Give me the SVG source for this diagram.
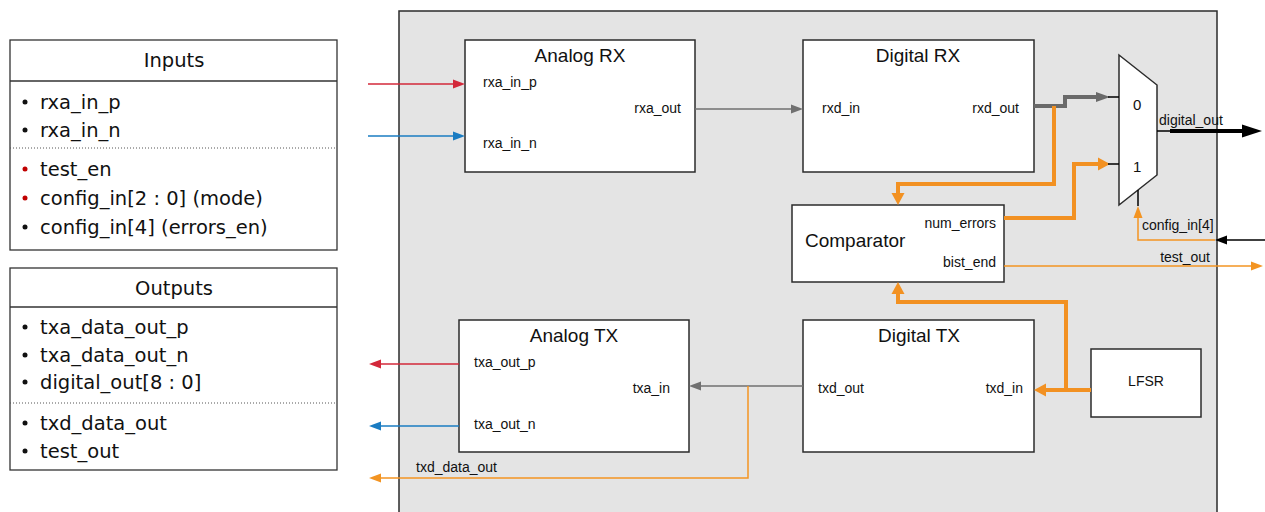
<svg xmlns="http://www.w3.org/2000/svg" width="1265" height="512" viewBox="0 0 1265 512">
  <style>
    .box { fill: #ffffff; stroke: #2b2b2b; stroke-width: 1.5; }
    .list { font-family: "DejaVu Sans", "Open Sans", sans-serif; font-size: 19.5px; fill: #111; }
    .title { font-family: "Liberation Sans", Arial, sans-serif; font-size: 19px; fill: #111; }
    .port { font-family: "Liberation Sans", Arial, sans-serif; font-size: 14px; fill: #111; }
    .end { text-anchor: end; }
    .mid { text-anchor: middle; }
    .dots { stroke: #555; stroke-width: 1; stroke-dasharray: 1 2; }
    .w { fill: none; stroke-linejoin: miter; }
    .gray { stroke: #707070; stroke-width: 1.5; }
    .grayb { stroke: #6a6a6a; stroke-width: 4; }
    .red { stroke: #d3283a; stroke-width: 1.5; }
    .blue { stroke: #1a7cc2; stroke-width: 1.5; }
    .org { stroke: #f39422; stroke-width: 1.5; }
    .orgb { stroke: #f29122; stroke-width: 4; }
    .blk { stroke: #000; stroke-width: 1.5; }
    .blkb { stroke: #000; stroke-width: 4; }
  </style>
  <defs>
    <marker id="aGray" markerUnits="userSpaceOnUse" orient="auto" overflow="visible" markerWidth="12" markerHeight="10"><path d="M0,-4.5 L12,0 L0,4.5 z" fill="#707070"/></marker>
    <marker id="aRed" markerUnits="userSpaceOnUse" orient="auto" overflow="visible" markerWidth="12" markerHeight="10"><path d="M0,-4.5 L12,0 L0,4.5 z" fill="#d3283a"/></marker>
    <marker id="aBlue" markerUnits="userSpaceOnUse" orient="auto" overflow="visible" markerWidth="12" markerHeight="10"><path d="M0,-4.5 L12,0 L0,4.5 z" fill="#1a7cc2"/></marker>
    <marker id="aOrg" markerUnits="userSpaceOnUse" orient="auto" overflow="visible" markerWidth="12" markerHeight="10"><path d="M0,-4.5 L12,0 L0,4.5 z" fill="#f39422"/></marker>
    <marker id="aBlk" markerUnits="userSpaceOnUse" orient="auto" overflow="visible" markerWidth="12" markerHeight="10"><path d="M0,-4.5 L12,0 L0,4.5 z" fill="#000"/></marker>
    <marker id="aOrgB" markerUnits="userSpaceOnUse" orient="auto" overflow="visible" markerWidth="12" markerHeight="14"><path d="M0,-6.5 L12,0 L0,6.5 z" fill="#f29122"/></marker>
    <marker id="aGrayB" markerUnits="userSpaceOnUse" orient="auto" overflow="visible" markerWidth="14" markerHeight="10"><path d="M0,-5 L14,0 L0,5 z" fill="#6a6a6a"/></marker>
    <marker id="aBlkB" markerUnits="userSpaceOnUse" orient="auto" overflow="visible" markerWidth="20" markerHeight="14"><path d="M0,-6.5 L20,0 L0,6.5 z" fill="#000"/></marker>
  </defs>

  <rect width="1265" height="512" fill="#ffffff"/>

  <!-- port lists -->
  <g id="inputs">
    <rect x="10" y="40" width="327" height="210" fill="#fff" stroke="#333" stroke-width="1.3"/>
    <line x1="10" y1="81" x2="337" y2="81" stroke="#333" stroke-width="1.3"/>
    <line x1="10" y1="148" x2="337" y2="148" class="dots"/>
    <text x="174" y="67" class="list mid">Inputs</text>
    <circle cx="25" cy="102" r="2.5" fill="#111"/>
    <text x="40" y="109" class="list">rxa_in_p</text>
    <circle cx="25" cy="130" r="2.5" fill="#111"/>
    <text x="40" y="137" class="list">rxa_in_n</text>
    <circle cx="25" cy="169" r="2.5" fill="#c00000"/>
    <text x="40" y="176" class="list">test_en</text>
    <circle cx="25" cy="198" r="2.5" fill="#c00000"/>
    <text x="40" y="205" class="list">config_in[2 : 0] (mode)</text>
    <circle cx="25" cy="227" r="2.5" fill="#111"/>
    <text x="40" y="234" class="list">config_in[4] (errors_en)</text>
  </g>

  <g id="outputs">
    <rect x="10" y="268" width="327" height="202" fill="#fff" stroke="#333" stroke-width="1.3"/>
    <line x1="10" y1="307" x2="337" y2="307" stroke="#333" stroke-width="1.3"/>
    <line x1="10" y1="403" x2="337" y2="403" class="dots"/>
    <text x="174" y="295" class="list mid">Outputs</text>
    <circle cx="25" cy="327" r="2.5" fill="#111"/>
    <text x="40" y="334" class="list">txa_data_out_p</text>
    <circle cx="25" cy="355" r="2.5" fill="#111"/>
    <text x="40" y="362" class="list">txa_data_out_n</text>
    <circle cx="25" cy="382" r="2.5" fill="#111"/>
    <text x="40" y="389" class="list">digital_out[8 : 0]</text>
    <circle cx="25" cy="423" r="2.5" fill="#111"/>
    <text x="40" y="430" class="list">txd_data_out</text>
    <circle cx="25" cy="451" r="2.5" fill="#111"/>
    <text x="40" y="458" class="list">test_out</text>
  </g>

  <!-- top-level block boundary -->
  <g id="top">
    <rect x="399" y="11" width="818" height="510" fill="#e4e4e4" stroke="#2b2b2b" stroke-width="1.5"/>
  </g>

  <g id="analog-rx">
    <rect x="465" y="40" width="230" height="132" class="box"/>
    <text x="580" y="62" class="title mid">Analog RX</text>
    <text x="483" y="87" class="port">rxa_in_p</text>
    <text x="483" y="148" class="port">rxa_in_n</text>
    <text x="681" y="113" class="port end">rxa_out</text>
  </g>

  <g id="digital-rx">
    <rect x="803" y="40" width="231" height="132" class="box"/>
    <text x="918" y="62" class="title mid">Digital RX</text>
    <text x="822" y="113" class="port">rxd_in</text>
    <text x="1019" y="113" class="port end">rxd_out</text>
  </g>

  <g id="mux">
    <path d="M1119,55 L1157,85 L1157,175 L1119,205 z" class="box"/>
    <text x="1133" y="110" class="port" style="font-size:15px">0</text>
    <text x="1133" y="172" class="port" style="font-size:15px">1</text>
  </g>

  <g id="comparator">
    <rect x="792" y="205" width="212" height="77" class="box"/>
    <text x="805" y="247" class="title">Comparator</text>
    <text x="996" y="228" class="port end">num_errors</text>
    <text x="996" y="267" class="port end">bist_end</text>
  </g>

  <g id="analog-tx">
    <rect x="459" y="320" width="230" height="132" class="box"/>
    <text x="574" y="342" class="title mid">Analog TX</text>
    <text x="474" y="367" class="port">txa_out_p</text>
    <text x="474" y="429" class="port">txa_out_n</text>
    <text x="670" y="393" class="port end">txa_in</text>
  </g>

  <g id="digital-tx">
    <rect x="803" y="320" width="231" height="132" class="box"/>
    <text x="919" y="342" class="title mid">Digital TX</text>
    <text x="818" y="393" class="port">txd_out</text>
    <text x="1023" y="393" class="port end">txd_in</text>
  </g>

  <g id="lfsr">
    <rect x="1091" y="349" width="110" height="68" class="box"/>
    <text x="1146" y="386" class="port mid">LFSR</text>
  </g>

  <g id="connectors">
    <!-- analog inputs -->
    <path d="M368,84 H453" class="w red" marker-end="url(#aRed)"/>
    <path d="M368,136 H453" class="w blue" marker-end="url(#aBlue)"/>
    <!-- analog rx to digital rx -->
    <path d="M695,109 H791" class="w gray" marker-end="url(#aGray)"/>
    <!-- rxd_out to mux input 0 -->
    <path d="M1034,106 H1065 V97 H1096" class="w grayb" marker-end="url(#aGrayB)"/>
    <path d="M1108,97 H1119" class="w blk"/>
    <!-- rxd_out to comparator -->
    <path d="M1054,106 V184 H898 V193" class="w orgb" marker-end="url(#aOrgB)"/>
    <!-- num_errors to mux input 1 -->
    <path d="M1004,218 H1074 V164 H1098" class="w orgb" marker-end="url(#aOrgB)"/>
    <path d="M1108,164 H1119" class="w blk"/>
    <!-- mux output -->
    <path d="M1157,131 H1172" class="w blk"/>
    <path d="M1170,131 H1242" class="w blkb" marker-end="url(#aBlkB)"/>
    <text x="1159" y="125" class="port">digital_out</text>
    <!-- mux select -->
    <path d="M1265,240 H1227" class="w blk" marker-end="url(#aBlk)"/>
    <path d="M1215,240 H1138 V218" class="w org" marker-end="url(#aOrg)"/>
    <path d="M1138,190 V206" class="w blk"/>
    <text x="1142" y="230" class="port">config_in[4]</text>
    <!-- test_out -->
    <path d="M1004,266 H1251" class="w org" marker-end="url(#aOrg)"/>
    <text x="1210" y="262" class="port end">test_out</text>
    <!-- LFSR to digital tx and comparator -->
    <path d="M1091,390 H1046" class="w orgb" marker-end="url(#aOrgB)"/>
    <path d="M1066,390 V302 H898 V294" class="w orgb" marker-end="url(#aOrgB)"/>
    <!-- digital tx to analog tx -->
    <path d="M803,386 H701" class="w gray" marker-end="url(#aGray)"/>
    <!-- txd_data_out tap -->
    <path d="M748,386 V478 H381" class="w org" marker-end="url(#aOrg)"/>
    <text x="416" y="472" class="port">txd_data_out</text>
    <!-- analog outputs -->
    <path d="M459,364 H381" class="w red" marker-end="url(#aRed)"/>
    <path d="M459,426 H381" class="w blue" marker-end="url(#aBlue)"/>
  </g>
</svg>
